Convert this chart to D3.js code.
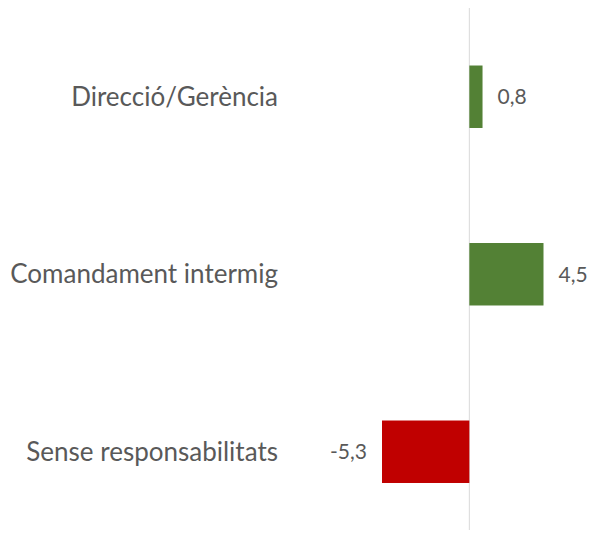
<!DOCTYPE html>
<html>
<head>
<meta charset="utf-8">
<script src="https://cdn.jsdelivr.net/npm/d3@7"></script>
<style>
  body { margin: 0; background: #fff; }
  text { font-family: Lato, "Open Sans", sans-serif; fill: #595959; }
</style>
</head>
<body>
<svg width="590" height="533"></svg>
<script>
// dades del gràfic
const categories = ["Direcció/Gerència", "Comandament intermig", "Sense responsabilitats"];
const values = [0.8, 4.5, -5.3];
const labels = ["0,8", "4,5", "-5,3"];

const svg = d3.select("svg");

const x = d3.scaleLinear().domain([-5.3, 4.5]).range([382, 543.5]);
const y = d3.scaleBand().domain(categories).range([8, 540.5])
  .paddingInner(0.648).paddingOuter(0.324);

// línia del zero
svg.append("line")
  .attr("x1", x(0)).attr("x2", x(0))
  .attr("y1", 8).attr("y2", 530)
  .attr("stroke", "#d9d9d9").attr("stroke-width", 1);

const data = categories.map((c, i) => ({ cat: c, value: values[i], label: labels[i] }));

svg.selectAll("rect.bar")
  .data(data)
  .enter()
  .append("rect")
  .attr("class", "bar")
  .attr("x", d => x(Math.min(0, d.value)))
  .attr("width", d => Math.abs(x(d.value) - x(0)))
  .attr("y", d => y(d.cat))
  .attr("height", y.bandwidth())
  .attr("fill", d => d.value < 0 ? "#c00000" : "#538135");

// etiquetes de categoria
svg.selectAll("text.cat")
  .data(data)
  .enter()
  .append("text")
  .attr("class", "cat")
  .attr("x", 278)
  .attr("y", d => y(d.cat) + y.bandwidth() / 2)
  .attr("dy", "0.35em")
  .attr("text-anchor", "end")
  .style("font-size", "26px")
  .text(d => d.cat);

// etiquetes de valor
svg.selectAll("text.val")
  .data(data)
  .enter()
  .append("text")
  .attr("class", "val")
  .attr("x", d => d.value < 0 ? x(d.value) - 15 : x(d.value) + 15)
  .attr("y", d => y(d.cat) + y.bandwidth() / 2)
  .attr("dy", "0.35em")
  .attr("text-anchor", d => d.value < 0 ? "end" : "start")
  .style("font-size", "21px")
  .text(d => d.label);
</script>
</body>
</html>
